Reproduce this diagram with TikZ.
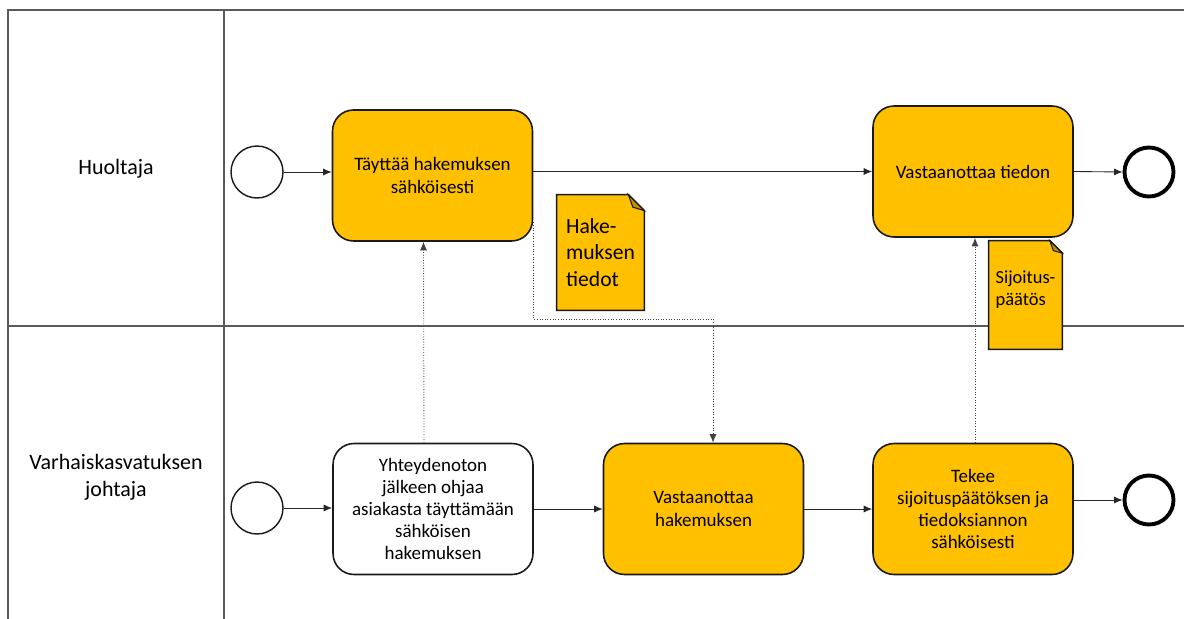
\documentclass[tikz,border=0pt]{standalone}
\usepackage{fontspec}
\setmainfont{Carlito}
\usetikzlibrary{arrows.meta}
\definecolor{bpmngold}{HTML}{FFC000}
\definecolor{poolgray}{HTML}{595959}

\begin{document}
\begin{tikzpicture}[x=0.02cm,y=-0.02cm,
  txt/.style={font=\fontsize{10.8}{12.6}\selectfont},
  lanetxt/.style={font=\fontsize{12.5}{15.3}\selectfont},
  task/.style={txt,draw=black!90,line width=0.9pt,rounded corners=0.42cm,fill=bpmngold,
    minimum width=4cm,minimum height=2.62cm,align=center,inner sep=0pt},
  plaintask/.style={task,fill=white},
  startev/.style={circle,draw=black!90,line width=0.8pt,fill=white,minimum size=1.04cm,inner sep=0pt},
  endev/.style={circle,draw=black,line width=2.2pt,fill=white,minimum size=0.98cm,inner sep=0pt},
  seq/.style={draw=black!85,line width=0.5pt,-{Latex[length=1.7mm,width=1.4mm]}},
  msg/.style={draw=black!75,line width=0.5pt,densely dotted,-{Latex[length=1.7mm,width=1.4mm]}},
  lane/.style={draw=poolgray,line width=1.1pt},
  docbox/.style={inner sep=0pt},
  docline/.style={draw=black!90,line width=0.9pt,fill=bpmngold},
  foldline/.style={draw=black!90,line width=0.6pt,fill=bpmngold!75!black},
]
  \useasboundingbox (0,0) rectangle (1184,619);

  % pool and lanes
  \draw[lane] (8,619) -- (8,10) -- (1184,10);
  \draw[lane] (224,10) -- (224,619);
  \draw[lane] (8,326) -- (1184,326);
  \node[lanetxt,align=center] (huoltaja) at (116,169) {Huoltaja};
  \node[lanetxt,align=center] (johtaja) at (116,477) {Varhaiskasvatuksen\\johtaja};

  % Huoltaja
  \node[startev] (s1) at (257,172) {};
  \node[task] (tayttaa) at (432.5,175.5) {Täyttää hakemuksen\\sähköisesti};
  \node[task] (vastaanottaa) at (973,171.5) {Vastaanottaa tiedon};
  \node[endev] (e1) at (1149,172) {};

  % Varhaiskasvatuksen johtaja
  \node[startev] (s2) at (257,508) {};
  \node[plaintask] (ohjaa) at (433,509) {Yhteydenoton\\jälkeen ohjaa\\asiakasta täyttämään\\sähköisen\\hakemuksen};
  \node[task] (vhakemus) at (703.5,509) {Vastaanottaa\\hakemuksen};
  \node[task] (tekee) at (973,509) {Tekee\\sijoituspäätöksen ja\\tiedoksiannon\\sähköisesti};
  \node[endev] (e2) at (1149,500) {};

  % data objects
  \node[docbox,minimum width=1.74cm,minimum height=2.3cm] (hak) at (600.5,252.5) {};
  \draw[docline] (hak.south west) -- (hak.north west) -- ([xshift=-0.32cm]hak.north east)
    -- ([yshift=-0.32cm]hak.north east) -- (hak.south east) -- cycle;
  \draw[foldline] ([xshift=-0.32cm]hak.north east) -- ([shift={(-0.23cm,-0.25cm)}]hak.north east)
    -- ([yshift=-0.32cm]hak.north east) -- cycle;
  \node[align=left,font=\fontsize{12.3}{15}\selectfont] (hakteksti) at (hak.center) {Hake-\\muksen\\tiedot};

  \node[docbox,minimum width=1.46cm,minimum height=2.16cm] (sij) at (1025.5,295) {};
  \draw[docline] (sij.south west) -- (sij.north west) -- ([xshift=-0.25cm]sij.north east)
    -- ([yshift=-0.25cm]sij.north east) -- (sij.south east) -- cycle;
  \draw[foldline] ([xshift=-0.25cm]sij.north east) -- ([shift={(-0.18cm,-0.2cm)}]sij.north east)
    -- ([yshift=-0.25cm]sij.north east) -- cycle;
  \node[align=left,font=\fontsize{10.5}{12.6}\selectfont] (sijteksti) at ([yshift=0.1cm]sij.center) {Sijoitus-\\päätös};

  % sequence flows
  \draw[seq] (s1.east) -- (s1.east -| tayttaa.west);
  \draw[seq] (tayttaa.east |- vastaanottaa) -- (vastaanottaa.west);
  \draw[seq] (vastaanottaa.east) -- (e1.west);
  \draw[seq] (s2.east) -- (s2.east -| ohjaa.west);
  \draw[seq] (ohjaa.east) -- (vhakemus.west);
  \draw[seq] (vhakemus.east) -- (tekee.west);
  \draw[seq] (e2 -| tekee.east) -- (e2.west);

  % message flows
  \coordinate (mutka) at (713,319);
  \draw[msg] ([xshift=-0.18cm]ohjaa.north) -- ([xshift=-0.18cm]tayttaa.south);
  \draw[msg] ([yshift=-0.94cm]tayttaa.east) |- (mutka) -- (mutka |- vhakemus.north);
  \draw[msg] ([xshift=0.04cm]tekee.north) -- ([xshift=0.04cm]vastaanottaa.south);
\end{tikzpicture}
\end{document}
